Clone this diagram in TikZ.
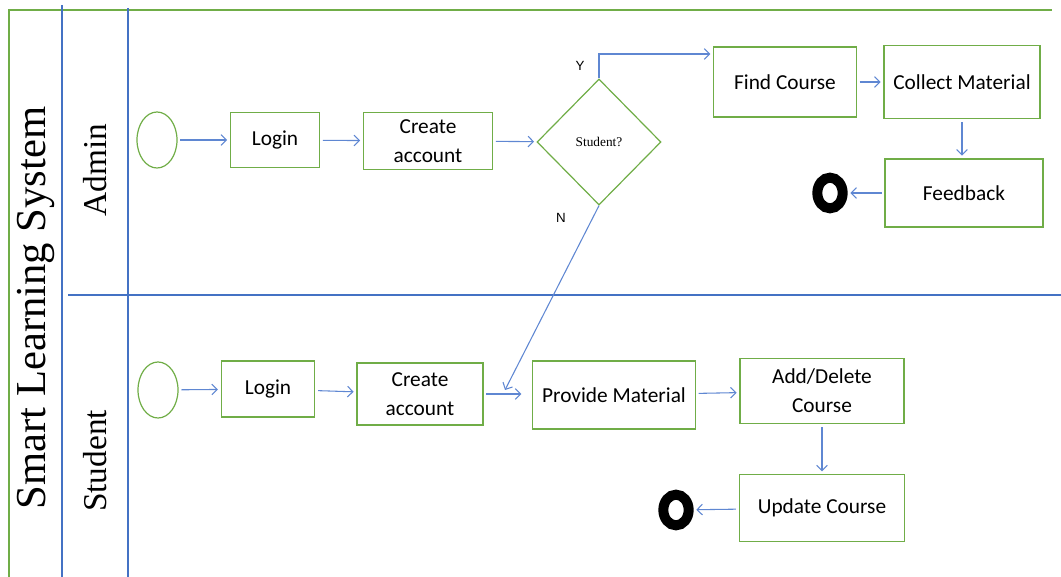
\documentclass[tikz,border=0pt]{standalone}
\usepackage{fontspec}
\setmainfont{Carlito}
\newfontfamily\lanefont{Liberation Serif}
\newfontfamily\yesnofont{Liberation Sans}
\usetikzlibrary{shapes.geometric, positioning, arrows.meta}
\definecolor{boxgreen}{RGB}{112,173,71}
\definecolor{flowblue}{RGB}{95,135,210}
\definecolor{laneblue}{RGB}{68,114,196}
\tikzset{
  act/.style={draw=boxgreen, line width=1.1pt, align=center, font=\fontsize{16}{22}\selectfont, inner sep=2pt},
  startnode/.style={draw=boxgreen, ellipse, line width=0.9pt, minimum width=30pt, minimum height=42pt},
  endnode/.style={ellipse, draw=black, line width=7.5pt, minimum width=19pt, minimum height=23pt, inner sep=0pt},
  flow/.style={-{Straight Barb[length=4pt, width=8pt]}, draw=flowblue, line width=0.8pt, shorten <=2pt, shorten >=2pt},
  lane/.style={draw=laneblue, line width=0.8pt},
}

\begin{document}
\begin{tikzpicture}[x=0.75pt, y=-0.75pt]
  \useasboundingbox (0,0) rectangle (1061,577);
  % swimlanes
  \draw [boxgreen, line width=0.9pt] (9,577) -- (9,10) -- (1052,10);
  \draw [lane] (62,5) -- (62,577);
  \draw [lane] (128,8) -- (128,577);
  \draw [lane] (68,295) -- (1061,295);
  \node [rotate=90, font=\lanefont\fontsize{32}{36}\selectfont] (title) at (36,308) {Smart Learning System};
  \node [rotate=90, font=\lanefont\fontsize{25}{28}\selectfont] (admin) at (95,170) {Admin};
  \node [rotate=90, font=\lanefont\fontsize{25}{28}\selectfont] (student) at (95,461) {Student};

  % admin lane
  \node [startnode] (st1) at (157,140) {};
  \node [act, minimum width=66.75pt, minimum height=41.25pt] (log1) at (275,140) {Login};
  \node [act, minimum width=96.75pt, minimum height=42.75pt] (cra1) at (428,141) {Create\\account};
  \node [diamond, draw=boxgreen, line width=0.9pt, minimum width=93pt, minimum height=94.5pt, inner sep=0pt,
         font=\lanefont\fontsize{10}{12}\selectfont] (dia) at (599,142) {Student?};
  \node [act, minimum width=107pt, minimum height=52.5pt] (find) at (785,82) {Find Course};
  \node [act, minimum width=117pt, minimum height=55pt] (col) at (962,82) {Collect Material};
  \node [act, minimum width=118.5pt, minimum height=51pt] (fb) at (964,193) {Feedback};
  \node [endnode] (end1) at (830,193) {};
  \node [font=\yesnofont\fontsize{10}{12}\selectfont] (ylab) at (580,66) {Y};
  \node [font=\yesnofont\fontsize{10}{12}\selectfont] (nlab) at (561,218) {N};
  \coordinate (ytop) at (599,54);

  % student lane
  \node [startnode] (st2) at (158,390) {};
  \node [act, minimum width=70pt, minimum height=42pt] (log2) at (268,389) {Login};
  \node [act, minimum width=94.5pt, minimum height=46.5pt] (cra2) at (420,394) {Create\\account};
  \node [act, minimum width=122pt, minimum height=51pt] (prov) at (614,395) {Provide Material};
  \node [act, minimum width=123pt, minimum height=49pt] (adddel) at (822,391) {Add/Delete\\Course};
  \node [act, minimum width=124pt, minimum height=50pt] (upd) at (822,508) {Update Course};
  \node [endnode] (end2) at (676,510) {};
  \coordinate (nend) at (505,390);

  % flows
  \draw [flow] (st1) -- (log1);
  \draw [flow] (log1) -- (cra1);
  \draw [flow] (cra1) -- (dia);
  \draw [flow, shorten <=0pt] (dia.north) -- (ytop) -- (ytop -| find.west);
  \draw [flow, shorten <=0pt, shorten >=0pt] (dia.south) -- (nend);
  \draw [flow] (find) -- (col);
  \draw [flow] (col.south) -- (col.south |- fb.north);
  \draw [flow] (fb) -- (end1);
  \draw [flow] (st2) -- (log2);
  \draw [flow] (log2) -- (cra2);
  \draw [flow, shorten >=8pt] (cra2.east) -- (cra2.east -| prov.west);
  \draw [flow] (prov) -- (adddel);
  \draw [flow] (adddel) -- (upd);
  \draw [flow] (upd) -- (end2);
\end{tikzpicture}
\end{document}
